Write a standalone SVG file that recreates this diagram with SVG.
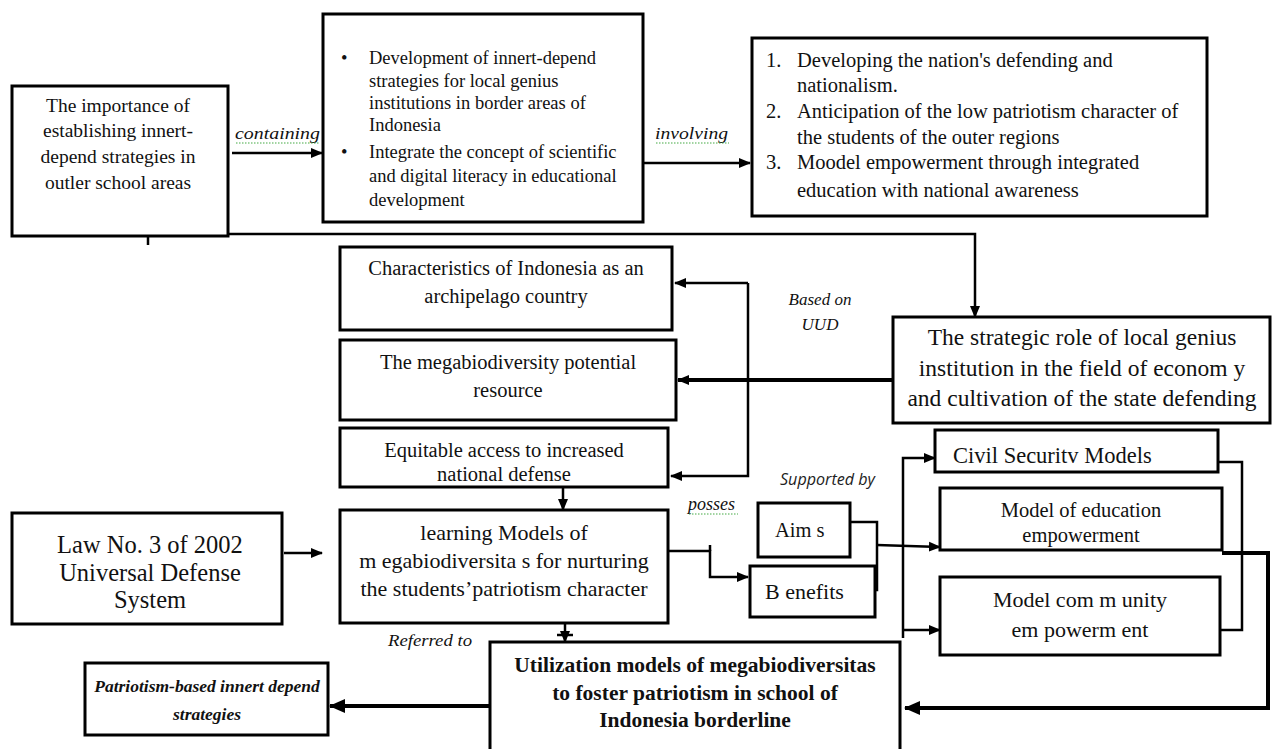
<svg xmlns="http://www.w3.org/2000/svg" width="1275" height="749" viewBox="0 0 1275 749">
<style>
.box{fill:#fff;stroke:#000;stroke-width:3}
.t{font-family:"Liberation Serif",serif;fill:#111}
.m{text-anchor:middle}
.c{fill:none;stroke:#000;stroke-width:2.5}
.ck{fill:none;stroke:#000;stroke-width:4}
.lbl{font-family:"Liberation Serif",serif;font-style:italic;fill:#111}
.sq{fill:none;stroke:#4a4;stroke-width:1.2;stroke-dasharray:1.5 1.5}
</style>
<defs>
<marker id="ah" markerWidth="12" markerHeight="12" refX="11" refY="6" orient="auto" markerUnits="userSpaceOnUse"><path d="M0,1 L12,6 L0,11 z" fill="#000"/></marker>
<marker id="ahb" markerWidth="16" markerHeight="14" refX="15" refY="7" orient="auto" markerUnits="userSpaceOnUse"><path d="M0,0 L16,7 L0,14 z" fill="#000"/></marker>
</defs>
<rect width="1275" height="749" fill="#fff"/>

<g id="connectors">
  <path class="c" d="M148,222 V245"/>
  <path class="c" d="M148,234 H975 V317" marker-end="url(#ah)"/>
  <path class="c" d="M232,153 H322" marker-end="url(#ah)"/>
  <path class="c" d="M643,163 H750" marker-end="url(#ah)"/>
  <path class="c" d="M748,283 H675" marker-end="url(#ah)"/>
  <path class="c" d="M748,283 V476 H671" marker-end="url(#ah)"/>
  <path class="ck" d="M893,380 H678" marker-end="url(#ah)"/>
  <path class="c" d="M563,487 V510" marker-end="url(#ah)"/>
  <path class="c" d="M284,553 H322" marker-end="url(#ah)"/>
  <path class="c" d="M668,551 H710 V577 H748" marker-end="url(#ah)"/>
  <path class="c" d="M710,545 V551"/>
  <path class="c" d="M850,522 H877 V590 H875"/>
  <path class="c" d="M877,545 L940,547" marker-end="url(#ah)"/>
  <path class="c" d="M903,638 V458 H935" marker-end="url(#ah)"/>
  <path class="c" d="M903,630 H940" marker-end="url(#ah)"/>
  <path class="c" d="M1218,462 H1242 V630 H1220"/>
  <path class="ck" d="M1222,553 H1268 V708 H905" marker-end="url(#ahb)"/>
  <path class="c" d="M565,623 V642" marker-end="url(#ah)"/>
  <path class="c" d="M557,635 H573"/>
  <path class="ck" d="M500,706 H330" marker-end="url(#ahb)"/>
  <path class="c" d="M497,698 V714"/>
</g>

<g id="n1">
  <rect class="box" x="12" y="86" width="216" height="150"/>
  <text class="t m" font-size="19.5"><tspan x="118" y="112">The importance of</tspan><tspan x="118" y="137">establishing innert-</tspan><tspan x="118" y="163">depend strategies in</tspan><tspan x="118" y="189">outler school areas</tspan></text>
</g>

<g id="n2">
  <rect class="box" x="323" y="14" width="320" height="208"/>
  <text class="t" font-size="18.5">
    <tspan x="341" y="64">•</tspan><tspan x="369" y="64">Development of innert-depend</tspan>
    <tspan x="369" y="87">strategies for local genius</tspan>
    <tspan x="369" y="109">institutions in border areas of</tspan>
    <tspan x="369" y="131">Indonesia</tspan>
    <tspan x="341" y="158">•</tspan><tspan x="369" y="158">Integrate the concept of scientific</tspan>
    <tspan x="369" y="182">and digital literacy in educational</tspan>
    <tspan x="369" y="206">development</tspan>
  </text>
</g>

<g id="n3">
  <rect class="box" x="752" y="38" width="455" height="178"/>
  <text class="t" font-size="20.5">
    <tspan x="766" y="67">1.</tspan><tspan x="797" y="67">Developing the nation's defending and</tspan>
    <tspan x="797" y="92">nationalism.</tspan>
    <tspan x="766" y="118">2.</tspan><tspan x="797" y="118">Anticipation of the low patriotism character of</tspan>
    <tspan x="797" y="144">the students of the outer regions</tspan>
    <tspan x="766" y="169">3.</tspan><tspan x="797" y="169">Moodel empowerment through integrated</tspan>
    <tspan x="797" y="197">education with national awareness</tspan>
  </text>
</g>

<g id="n4">
  <rect class="box" x="340" y="247" width="332" height="83"/>
  <text class="t m" font-size="20.5"><tspan x="506" y="275">Characteristics of Indonesia as an</tspan><tspan x="506" y="303">archipelago country</tspan></text>
</g>

<g id="n5">
  <rect class="box" x="340" y="340" width="336" height="80"/>
  <text class="t m" font-size="20.5"><tspan x="508" y="369">The megabiodiversity potential</tspan><tspan x="508" y="397">resource</tspan></text>
</g>

<g id="n6">
  <rect class="box" x="340" y="428" width="328" height="59"/>
  <text class="t m" font-size="20.5"><tspan x="504" y="457">Equitable access to increased</tspan><tspan x="504" y="481">national defense</tspan></text>
</g>

<g id="n7">
  <rect class="box" x="893" y="317" width="377" height="106"/>
  <text class="t m" font-size="23.5"><tspan x="1082" y="345">The strategic role of local genius</tspan><tspan x="1082" y="376">institution in the field of econom y</tspan><tspan x="1082" y="406">and cultivation of the state defending</tspan></text>
</g>

<g id="n8">
  <rect class="box" x="340" y="510" width="328" height="113"/>
  <text class="t m" font-size="22"><tspan x="504" y="540">learning Models of</tspan><tspan x="504" y="568">m egabiodiversita s for nurturing</tspan><tspan x="504" y="596">the students’patriotism character</tspan></text>
</g>

<g id="n9">
  <rect class="box" x="12" y="513" width="270" height="111"/>
  <text class="t m" font-size="24.5"><tspan x="150" y="553">Law No. 3 of 2002</tspan><tspan x="150" y="581">Universal Defense</tspan><tspan x="150" y="608">System</tspan></text>
</g>

<g id="n10">
  <rect class="box" x="758" y="503" width="92" height="54"/>
  <text class="t" font-size="20.5" x="775" y="537">Aim s</text>
</g>

<g id="n11">
  <rect class="box" x="750" y="566" width="125" height="51"/>
  <text class="t" font-size="22" x="765" y="599">B enefits</text>
</g>

<g id="n12">
  <rect class="box" x="935" y="430" width="283" height="42"/>
  <text class="t" font-size="22.5" x="953" y="463">Civil Securitv Models</text>
</g>

<g id="n13">
  <rect class="box" x="940" y="488" width="282" height="62"/>
  <text class="t m" font-size="20.5"><tspan x="1081" y="517">Model of education</tspan><tspan x="1081" y="542">empowerment</tspan></text>
</g>

<g id="n14">
  <rect class="box" x="940" y="577" width="280" height="78"/>
  <text class="t m" font-size="22"><tspan x="1080" y="607">Model com m unity</tspan><tspan x="1080" y="637">em powerm ent</tspan></text>
</g>

<g id="n15">
  <path class="box" d="M490,752 V642 H900 V752"/>
  <text class="t m" font-size="21.5" font-weight="bold"><tspan x="695" y="672">Utilization models of megabiodiversitas</tspan><tspan x="695" y="700">to foster patriotism in school of</tspan><tspan x="695" y="727">Indonesia borderline</tspan></text>
</g>

<g id="n16">
  <rect class="box" x="85" y="663" width="243" height="72"/>
  <text class="t m" font-size="17.5" font-weight="bold" font-style="italic"><tspan x="207" y="692">Patriotism-based innert depend</tspan><tspan x="207" y="720">strategies</tspan></text>
</g>

<g id="labels">
  <text class="lbl" x="235" y="139" font-size="17" textLength="85" lengthAdjust="spacingAndGlyphs">containing</text>
  <path class="sq" d="M236,143 H320"/>
  <text class="lbl" x="655" y="139" font-size="17" textLength="73" lengthAdjust="spacingAndGlyphs">involving</text>
  <path class="sq" d="M656,143 H729"/>
  <text class="lbl m" x="820" y="305" font-size="17">Based on</text>
  <text class="lbl m" x="820" y="330" font-size="17">UUD</text>
  <text class="lbl" x="688" y="510" font-size="18">posses</text>
  <path class="sq" d="M689,514 H738"/>
  <text x="780" y="485" font-size="15.5" font-family="'Open Sans',sans-serif" font-style="italic" fill="#222" textLength="95" lengthAdjust="spacingAndGlyphs">Supported by</text>
  <text class="lbl" x="388" y="646" font-size="17" textLength="84" lengthAdjust="spacingAndGlyphs">Referred to</text>
</g>
</svg>
